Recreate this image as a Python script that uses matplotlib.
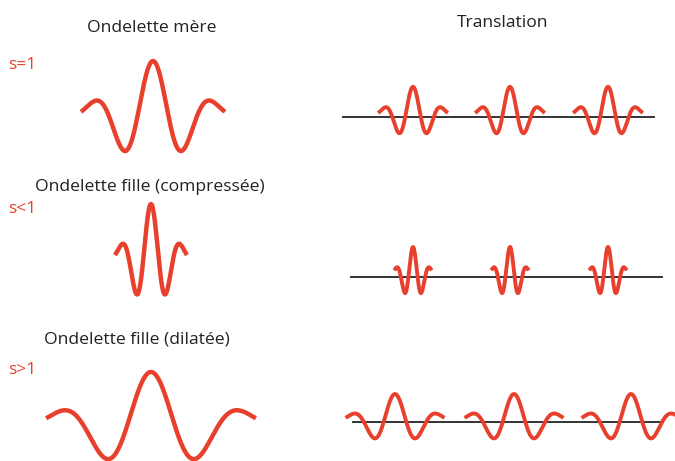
import numpy as np
import matplotlib
matplotlib.use("Agg")
import matplotlib.pyplot as plt

# ---- data (pixel-space parameters) ----
row_titles = ["Ondelette mère", "Ondelette fille (compressée)", "Ondelette fille (dilatée)"]
row_title_x = [152, 150, 137]
row_title_y = [28, 187, 339]
scale_labels = ["s=1", "s<1", "s>1"]
scale_label_y = [65, 209, 370]

# single wavelets (left column)
left_center = [153, 151, 151]
left_baseline = [113.7, 257, 423]
left_amp = [52.7, 53, 51]
left_period = [60, 30, 92]
left_extent = [1.2, 1.2, 1.14]   # half-width in periods

# translated wavelets (right column)
trans_title = "Translation"
trans_centers = [[413, 510, 608], [413, 510, 608], [395, 514, 631]]
trans_baseline = [114, 274, 420]
trans_amp = [27.2, 27, 26]
trans_period = [29, 17, 43]
trans_extent = [1.2, 1.1, 1.15]
axis_y = [117, 277, 422]
axis_x0 = [343, 351, 353]
axis_x1 = [654, 662, 663]

SIGMA = 0.58  # gaussian envelope width, in periods

RED = "#e8402c"
DARK = "#333333"

def wavelet(ax, cx, y0, amp, period, extent, lw):
    t = np.linspace(-extent, extent, 400)
    psi = np.cos(2 * np.pi * t) * np.exp(-t ** 2 / (2 * SIGMA ** 2))
    ax.plot(cx + t * period, y0 - amp * psi, color=RED, lw=lw,
            solid_capstyle="butt", zorder=3)

fig = plt.figure(figsize=(6.75, 4.61), dpi=100)
ax = fig.add_axes([0, 0, 1, 1])
ax.set_xlim(0, 675)
ax.set_ylim(461, 0)
ax.axis("off")

FONT = "Open Sans"
FS = 12.6
for i in range(3):
    ax.text(row_title_x[i], row_title_y[i], row_titles[i], ha="center", va="center",
            fontsize=FS, color="#222222", family=FONT)
    ax.text(8, scale_label_y[i], scale_labels[i], ha="left", va="center",
            fontsize=FS, color=RED, family=FONT)
    wavelet(ax, left_center[i], left_baseline[i], left_amp[i], left_period[i],
            left_extent[i], 3.2)
    ax.plot([axis_x0[i], axis_x1[i]], [axis_y[i], axis_y[i]], color=DARK, lw=1.4, zorder=2)
    for c in trans_centers[i]:
        wavelet(ax, c, trans_baseline[i], trans_amp[i], trans_period[i],
                trans_extent[i], 2.8)

ax.text(503, 23, trans_title, ha="center", va="center", fontsize=FS,
        color="#222222", family=FONT)

fig.savefig("out.png", dpi=100)
